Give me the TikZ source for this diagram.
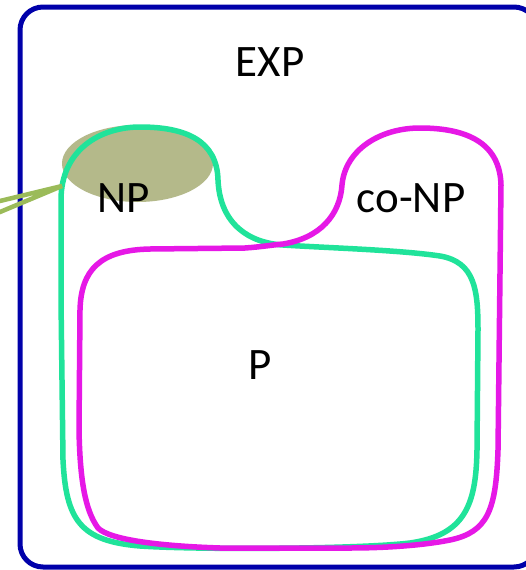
\documentclass[tikz,border=0pt]{standalone}
\usepackage{fontspec}
\setmainfont{Carlito}
\definecolor{frameblue}{RGB}{0,0,170}
\definecolor{npgreen}{RGB}{32,227,154}
\definecolor{comag}{RGB}{230,24,230}
\definecolor{pointolive}{RGB}{155,187,89}
\definecolor{ellfill}{RGB}{180,185,138}
\tikzset{
  frameline/.style={draw=frameblue, line width=5pt, rounded corners=23pt},
  npline/.style={draw=npgreen, line width=5.5pt, line join=round},
  coline/.style={draw=comag, line width=5.5pt, line join=round},
  pointerline/.style={draw=pointolive, line width=4.5pt, line cap=round},
  lbl/.style={inner sep=0pt, font=\fontsize{45}{54}\selectfont, text=black}
}
\begin{document}
\begin{tikzpicture}[x=1pt, y=-1pt]
\useasboundingbox (0,0) rectangle (526,570);
\fill[white] (0,0) rectangle (526,570);
\begin{scope}
\clip (0,0) rectangle (526,570);
% EXP frame
\draw[frameline] (20,7) rectangle (537,567);
% NP ellipse
\fill[ellfill] (137.5,163.5) ellipse [x radius=75.5, y radius=38.5];
% NP curve
\draw[npline] (61,300) -- (61,200)
  .. controls (61,150) and (100,127) .. (140,127)
  .. controls (185,127) and (217,140) .. (218,180)
  .. controls (220,225) and (250,243) .. (283,245)
  .. controls (330,248) and (400,250) .. (440,256)
  .. controls (475,262) and (478,290) .. (478,330)
  -- (477,450)
  .. controls (476,505) and (465,535) .. (410,543)
  .. controls (360,549) and (200,550) .. (140,546)
  .. controls (80,541) and (66,520) .. (63,460)
  -- cycle;
% co-NP curve
\draw[coline] (283,244)
  .. controls (320,238) and (340,215) .. (342,185)
  .. controls (345,150) and (380,128) .. (420,128)
  .. controls (470,128) and (500,145) .. (501,185)
  -- (498,450)
  .. controls (496,510) and (488,532) .. (450,540)
  .. controls (420,546) and (380,548) .. (350,548)
  -- (220,548)
  .. controls (160,546) and (110,540) .. (98,528)
  .. controls (85,510) and (80,480) .. (79,430)
  -- (80,310)
  .. controls (81,270) and (100,250) .. (150,249)
  -- (245,248)
  .. controls (260,247) and (272,245) .. (283,244)
  -- cycle;
% pointer
\coordinate (tip) at (62,186);
\coordinate (tailA) at (-10,203.4);
\coordinate (tailB) at (-10,216.2);
\draw[pointerline] (tailA) -- (tip) -- (tailB);
\end{scope}
% labels
\node[lbl] (exp) at (270,62) {EXP};
\node[lbl] (np) at (124,198) {NP};
\node[lbl] (conp) at (411,198) {co-NP};
\node[lbl] (p) at (260,365) {P};
\end{tikzpicture}
\end{document}
